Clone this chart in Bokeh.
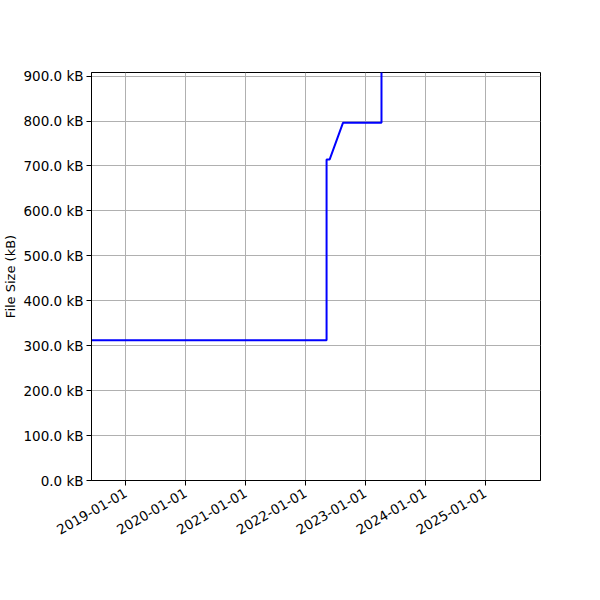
from datetime import datetime
from bokeh.plotting import figure
from bokeh.models import Range1d, FixedTicker, PrintfTickFormatter, DatetimeTickFormatter
from bokeh.embed import file_html
from bokeh.resources import INLINE
import math

# Data
dates = ["2018-06-06", "2022-05-10", "2022-05-10", "2022-05-29", "2022-08-18", "2023-04-10", "2023-04-10"]
sizes_kb = [312.3, 312.3, 714.6, 714.6, 796.0, 796.0, 1500.0]
x_tick_labels = ["2019-01-01", "2020-01-01", "2021-01-01", "2022-01-01", "2023-01-01", "2024-01-01", "2025-01-01"]
y_ticks = [0, 100, 200, 300, 400, 500, 600, 700, 800, 900]
x_limits = ["2018-06-06", "2025-12-05"]
y_limits = [0, 908]

def ms(s):
    return (datetime.strptime(s, "%Y-%m-%d") - datetime(1970, 1, 1)).total_seconds() * 1000.0

xs = [datetime.strptime(d, "%Y-%m-%d") for d in dates]

p = figure(width=600, height=600, x_axis_type="datetime",
           output_backend="svg", toolbar_location=None,
           x_range=Range1d(ms(x_limits[0]), ms(x_limits[1])),
           y_range=Range1d(y_limits[0], y_limits[1]),
           min_border_left=90, min_border_right=60, min_border_top=72, min_border_bottom=120)

p.line(xs, sizes_kb, line_color="blue", line_width=2)

FONT = "DejaVu Sans"
p.xaxis.ticker = FixedTicker(ticks=[ms(t) for t in x_tick_labels], minor_ticks=[])
p.xaxis.formatter = DatetimeTickFormatter(days="%Y-%m-%d", months="%Y-%m-%d", years="%Y-%m-%d")
p.xaxis.major_label_orientation = math.pi / 6
p.yaxis.ticker = FixedTicker(ticks=y_ticks, minor_ticks=[])
p.yaxis.formatter = PrintfTickFormatter(format="%.1f kB")
p.yaxis.axis_label = "File Size (kB)"

for ax in (p.xaxis, p.yaxis):
    ax.major_label_text_font = FONT
    ax.major_label_text_font_size = "13.5px"
    ax.major_label_text_color = "black"
    ax.axis_label_text_font = FONT
    ax.axis_label_text_font_size = "13px"
    ax.axis_label_text_font_style = "normal"
    ax.axis_label_text_color = "black"
    ax.axis_line_color = "black"
    ax.major_tick_line_color = "black"
    ax.major_tick_out = 5
    ax.major_tick_in = 0
    ax.minor_tick_line_color = None
    ax.major_label_standoff = 3

p.xaxis.major_label_standoff = 6
p.yaxis.axis_label_standoff = 2

p.xgrid.grid_line_color = "#b0b0b0"
p.ygrid.grid_line_color = "#b0b0b0"
p.xgrid.grid_line_width = 1
p.ygrid.grid_line_width = 1
p.outline_line_color = "black"
p.outline_line_width = 1
p.outline_line_alpha = 1
p.background_fill_color = "white"
p.border_fill_color = "white"

open("out.html", "w").write(file_html(p, INLINE))
